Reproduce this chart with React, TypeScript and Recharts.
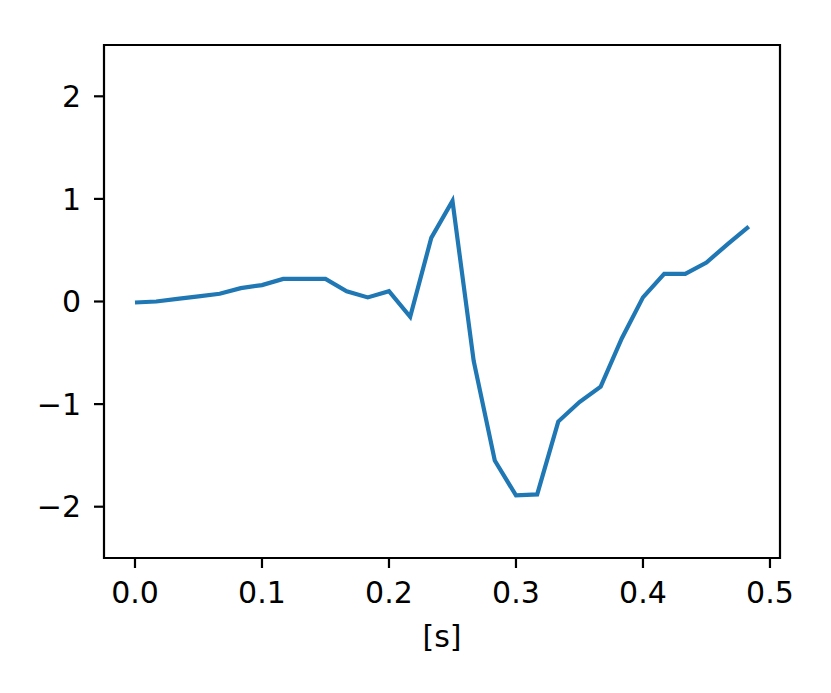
import { Line, LineChart, ReferenceArea, XAxis, YAxis } from "recharts";

const times = [
  0, 0.0167, 0.0333, 0.05, 0.0667, 0.0833, 0.1, 0.1167, 0.1333, 0.15,
  0.1667, 0.1833, 0.2, 0.2167, 0.2333, 0.25, 0.2667, 0.2833, 0.3, 0.3167,
  0.3333, 0.35, 0.3667, 0.3833, 0.4, 0.4167, 0.4333, 0.45, 0.4667, 0.4833,
];

const signal = [
  -0.01, 0.0, 0.025, 0.05, 0.075, 0.13, 0.16, 0.22, 0.22, 0.22,
  0.1, 0.04, 0.1, -0.15, 0.62, 0.98, -0.58, -1.55, -1.89, -1.88,
  -1.17, -0.98, -0.83, -0.36, 0.04, 0.27, 0.27, 0.38, 0.56, 0.73,
];

const xTicks = [0, 0.1, 0.2, 0.3, 0.4, 0.5];
const yTicks = [-2, -1, 0, 1, 2];
const xDomain: [number, number] = [-0.0244, 0.5079];
const yDomain: [number, number] = [-2.5, 2.5];

const data = times.map((t, i) => ({ t, v: signal[i] }));

const font = "'DejaVu Sans', sans-serif";
const tickStyle = { fill: "#000", fontSize: 30, fontFamily: font };

export default function App() {
  return (
    <div style={{ position: "absolute", left: 0, top: 0, background: "#fff" }}>
      <LineChart
        width={831}
        height={693}
        data={data}
        margin={{ top: 45, right: 51, left: 0, bottom: 0 }}
      >
        <XAxis
          dataKey="t"
          type="number"
          domain={xDomain}
          allowDataOverflow
          ticks={xTicks}
          tickFormatter={(v: number) => v.toFixed(1)}
          height={135}
          tick={tickStyle}
          tickSize={10}
          tickMargin={14}
          stroke="#000"
          strokeWidth={2.2}
          axisLine={false}
          label={{
            value: "[s]",
            position: "insideBottom",
            offset: 46,
            fill: "#000",
            fontSize: 30,
            fontFamily: font,
          }}
        />
        <YAxis
          type="number"
          domain={yDomain}
          allowDataOverflow
          ticks={yTicks}
          tickFormatter={(v: number) => (v < 0 ? `\u2212${Math.abs(v)}` : `${v}`)}
          width={104}
          tick={tickStyle}
          tickSize={10}
          tickMargin={13}
          stroke="#000"
          strokeWidth={2.2}
          axisLine={false}
        />
        <ReferenceArea
          x1={xDomain[0]}
          x2={xDomain[1]}
          y1={yDomain[0]}
          y2={yDomain[1]}
          fill="none"
          stroke="#000"
          strokeWidth={2.2}
          fillOpacity={0}
          strokeOpacity={1}
        />
        <Line
          type="linear"
          dataKey="v"
          stroke="#1f77b4"
          strokeWidth={4.2}
          dot={false}
          isAnimationActive={false}
        />
      </LineChart>
    </div>
  );
}
